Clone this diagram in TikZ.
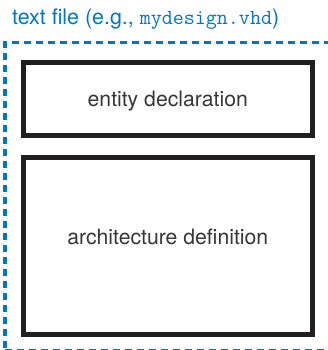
\documentclass[tikz,border=0pt]{standalone}
\usepackage{fontspec}
\setmainfont{TeX Gyre Heros}
\definecolor{fileblue}{HTML}{0077C4}
\definecolor{boxline}{HTML}{231F20}
\begin{document}
\begin{tikzpicture}[x=1pt,y=1pt,
  filebox/.style={draw=fileblue, line width=3.5pt, dash pattern=on 7pt off 5pt,
    inner sep=0pt, anchor=north west},
  partbox/.style={draw=boxline, line width=5pt, fill=white, inner sep=0pt,
    minimum width=288.5pt, font=\fontsize{21.2}{25}\selectfont, text=boxline!90}]
  \useasboundingbox (0,0) rectangle (328,350);
  \clip (0,0) rectangle (328,350);
  % dashed outline of the source file (runs off the right edge)
  \node[filebox, minimum width=345pt, minimum height=308pt] (file) at (3,309) {};
  % caption
  \node[anchor=base west, inner sep=0pt, text=fileblue,
    font=\fontsize{21.4}{25}\selectfont] (caption) at (12,325)
    {text file (e.g., {\ttfamily mydesign.vhd})};
  % the two design units
  \node[partbox, minimum height=73pt, text height=20pt, text depth=4pt]
    (entity) at (167.75,251) {entity declaration};
  \node[partbox, minimum height=177pt, text height=10pt, text depth=12pt]
    (arch) at (167.75,104) {architecture definition};
\end{tikzpicture}
\end{document}
